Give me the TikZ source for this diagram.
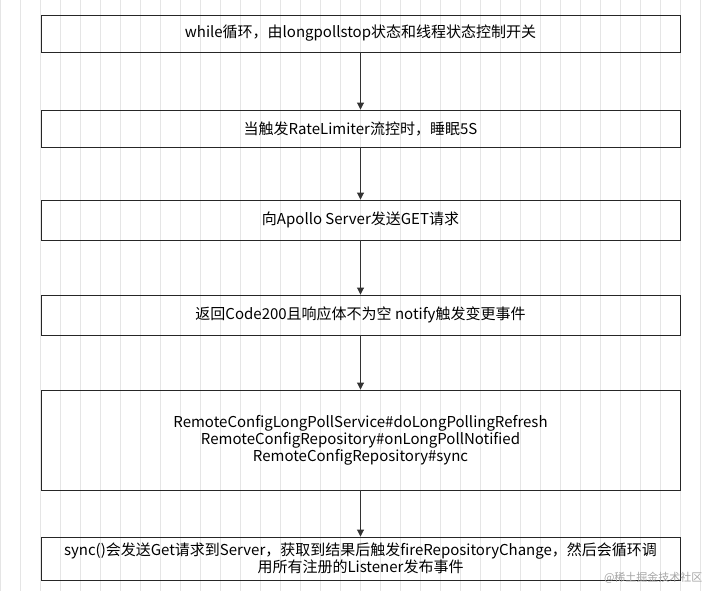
\documentclass[tikz,border=0pt]{standalone}
\usepackage{fontspec}
\setmainfont{Noto Sans CJK SC}
\usetikzlibrary{positioning,arrows.meta}

\begin{document}
\begin{tikzpicture}[x=1pt,y=-1pt,
	stepbox/.style={draw=black!85,line width=0.9pt,minimum width=639pt,inner sep=2pt,
		align=center,font=\fontsize{15}{17}\selectfont},
	flow/.style={-{Triangle[length=7pt,width=7pt]},line width=0.9pt,black!80}]
	% background grid
	\useasboundingbox (0,0) rectangle (708,591);
	\fill[white] (0,0) rectangle (708,591);
	\draw[black!10,line width=0.4pt] (0,0) grid[step=20] (708,591);
	\node[stepbox,minimum height=37pt] (loop) at (360.5,33.5) {while循环，由longpollstop状态和线程状态控制开关};
	\node[stepbox,minimum height=37pt] (limit) at (360.5,128.5) {当触发RateLimiter流控时，睡眠5S};
	\node[stepbox,minimum height=40pt] (get) at (360.5,220) {向Apollo Server发送GET请求};
	\node[stepbox,minimum height=40pt] (resp) at (360.5,315) {返回Code200且响应体不为空 notify触发变更事件};
	\node[stepbox,minimum height=100pt] (refresh) at (360.5,440)
		{RemoteConfigLongPollService\#doLongPollingRefresh\\RemoteConfigRepository\#onLongPollNotified\\RemoteConfigRepository\#sync};
	\node[stepbox,minimum height=43pt,text width=632pt] (sync) at (360.5,558.5)
		{sync()会发送Get请求到Server，获取到结果后触发fireRepositoryChange，然后会循环调\\用所有注册的Listener发布事件};
	\draw[flow] (loop) -- (limit);
	\draw[flow] (limit) -- (get);
	\draw[flow] (get) -- (resp);
	\draw[flow] (resp) -- (refresh);
	\draw[flow] (refresh) -- (sync);
	\node[text=black!35,font=\fontsize{11}{13}\selectfont,anchor=east] (mark) at (706,578) {@稀土掘金技术社区};
\end{tikzpicture}
\end{document}
